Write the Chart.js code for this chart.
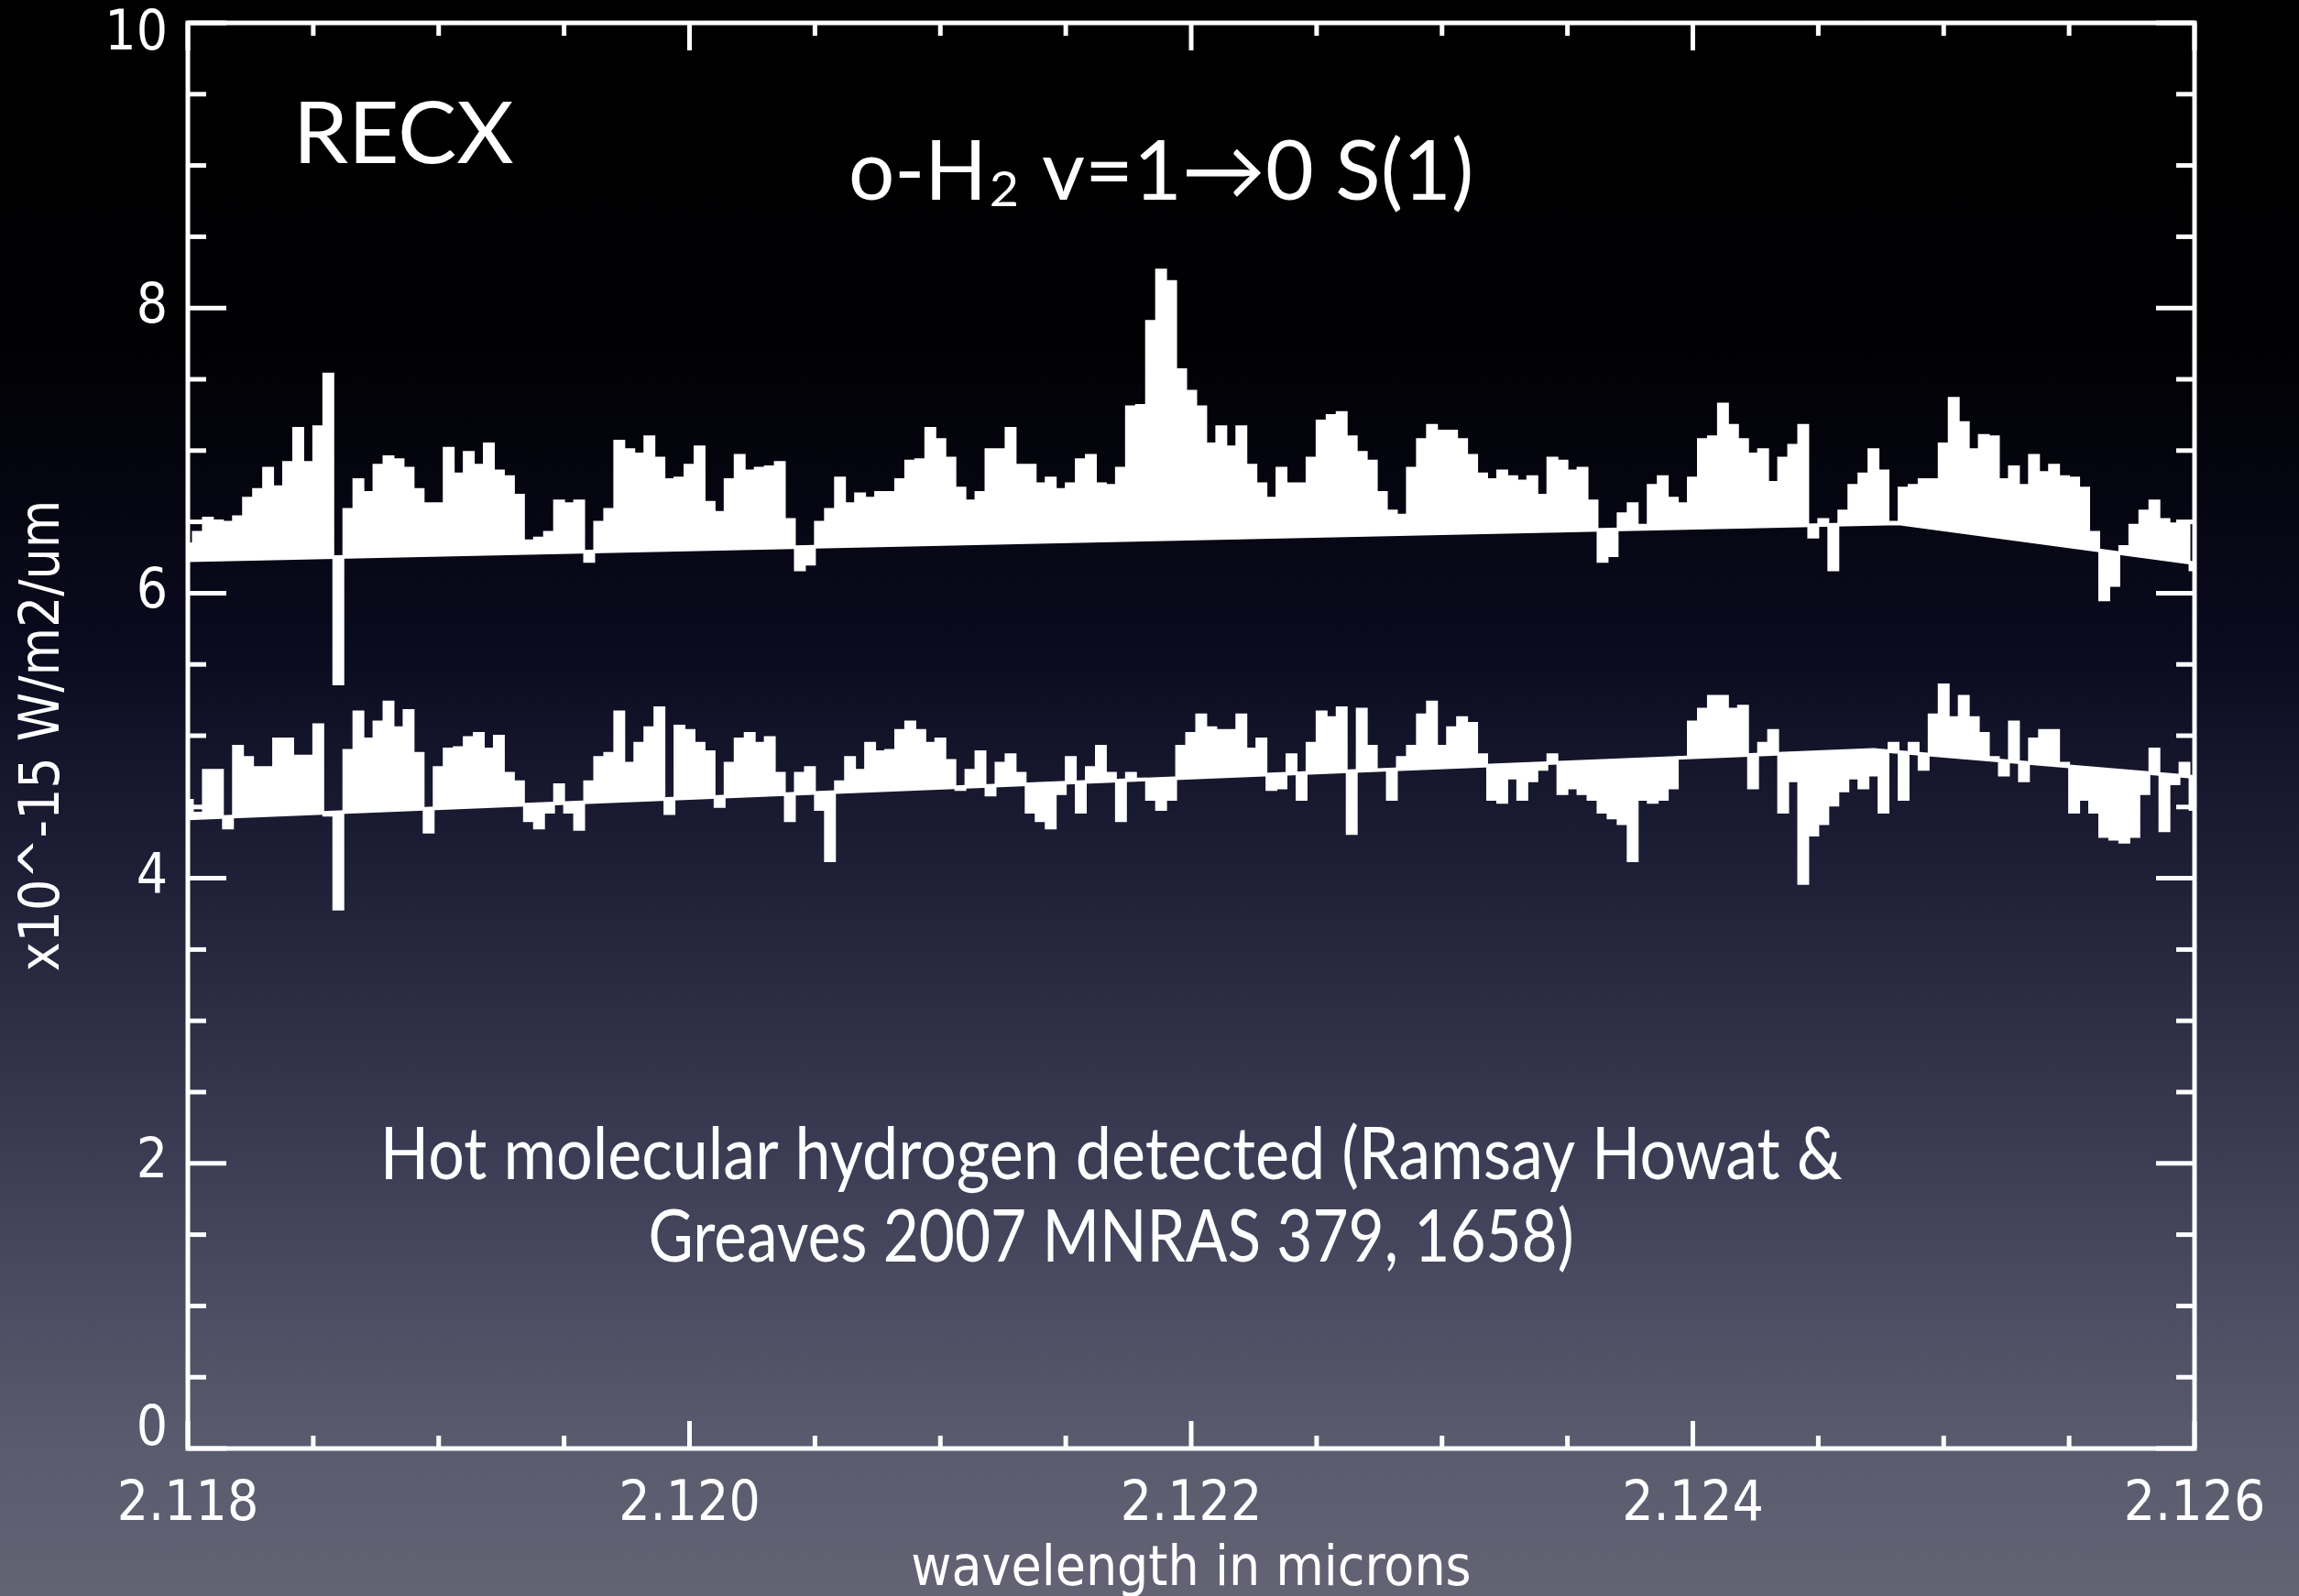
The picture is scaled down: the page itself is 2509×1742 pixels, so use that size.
<!DOCTYPE html>
<html>
<head>
<meta charset="utf-8">
<script src="https://cdn.jsdelivr.net/npm/chart.js@4.4.0/dist/chart.umd.min.js"></script>
<style>
  html, body {
    margin: 0;
    padding: 0;
    width: 2509px;
    height: 1742px;
    overflow: hidden;
    background: linear-gradient(to bottom, #000000 0%, #010104 22%, #0a0a1e 40%, #1f1f38 55%, #3b3b54 72%, #5a5a6e 90%, #636374 100%);
  }
  canvas { display: block; }
</style>
</head>
<body>
<canvas id="espectro" width="2509" height="1742"></canvas>
<script>
// Rejilla de longitudes de onda (micras)
const waveStart = 2.118;
const waveStep = 0.00004;

// Flujo del espectro superior (x10^-15 W/m2/um)
const fluxUpper = [
  6.35, 6.43, 6.53, 6.51, 6.50, 6.54, 6.67, 6.73, 6.88, 6.75,
  6.92, 7.16, 6.92, 7.17, 7.54, 5.36, 6.59, 6.80, 6.71, 6.90,
  6.96, 6.94, 6.88, 6.73, 6.63, 6.63, 7.02, 6.84, 6.99, 6.90,
  7.05, 6.86, 6.82, 6.69, 6.37, 6.39, 6.43, 6.65, 6.63, 6.65,
  6.22, 6.50, 6.59, 7.07, 7.01, 6.98, 7.10, 6.95, 6.80, 6.81,
  6.90, 7.03, 6.64, 6.57, 6.80, 6.97, 6.86, 6.88, 6.89, 6.92,
  6.52, 6.16, 6.20, 6.50, 6.59, 6.81, 6.63, 6.70, 6.67, 6.71,
  6.71, 6.80, 6.93, 6.94, 7.16, 7.08, 6.95, 6.74, 6.65, 6.71,
  7.01, 7.01, 7.16, 6.90, 6.90, 6.77, 6.81, 6.73, 6.77, 6.94,
  6.97, 6.77, 6.76, 6.88, 7.31, 7.32, 7.91, 8.27, 8.19, 7.57,
  7.42, 7.31, 7.05, 7.17, 7.03, 7.17, 6.90, 6.77, 6.67, 6.88,
  6.77, 6.77, 6.95, 7.21, 7.25, 7.27, 7.10, 6.99, 6.93, 6.71,
  6.58, 6.55, 6.88, 7.08, 7.18, 7.14, 7.14, 7.08, 6.97, 6.84,
  6.80, 6.86, 6.82, 6.79, 6.82, 6.69, 6.95, 6.93, 6.86, 6.88,
  6.65, 6.22, 6.26, 6.56, 6.63, 6.48, 6.76, 6.82, 6.67, 6.63,
  6.81, 7.08, 7.10, 7.33, 7.18, 7.08, 6.98, 7.01, 6.78, 6.95,
  7.04, 7.18, 6.39, 6.52, 6.16, 6.58, 6.76, 6.84, 7.01, 6.86,
  6.50, 6.74, 6.76, 6.80, 6.80, 7.05, 7.37, 7.20, 7.01, 7.11,
  7.10, 6.80, 6.89, 6.76, 6.97, 6.85, 6.90, 6.82, 6.81, 6.74,
  6.43, 5.95, 6.05, 6.33, 6.48, 6.58, 6.65, 6.52, 6.49, 6.48,
  6.16
];

// Flujo del espectro inferior
const fluxLower = [
  4.55, 4.46, 4.76, 4.76, 4.35, 4.93, 4.85, 4.78, 4.78, 4.98,
  4.98, 4.86, 4.86, 5.08, 4.44, 3.78, 4.90, 5.17, 4.98, 5.10,
  5.24, 5.06, 5.18, 4.88, 4.32, 4.78, 4.91, 4.92, 4.99, 5.02,
  4.91, 5.00, 4.74, 4.68, 4.40, 4.35, 4.46, 4.66, 4.46, 4.34,
  4.68, 4.85, 4.88, 5.17, 4.81, 4.95, 5.06, 5.20, 4.45, 5.07,
  5.04, 4.95, 4.89, 4.50, 4.81, 4.98, 5.02, 4.95, 4.99, 4.74,
  4.40, 4.74, 4.78, 4.48, 4.12, 4.68, 4.85, 4.76, 4.95, 4.89,
  4.90, 5.04, 5.10, 5.04, 4.95, 4.98, 4.83, 4.62, 4.76, 4.89,
  4.58, 4.81, 4.87, 4.74, 4.46, 4.40, 4.35, 4.59, 4.85, 4.46,
  4.78, 4.93, 4.74, 4.40, 4.74, 4.70, 4.55, 4.48, 4.55, 4.93,
  5.02, 5.15, 5.06, 5.04, 5.04, 5.15, 4.91, 4.98, 4.62, 4.63,
  4.87, 4.55, 4.95, 5.17, 5.13, 5.20, 4.31, 5.19, 4.93, 4.76,
  4.55, 4.85, 4.93, 5.15, 5.24, 4.93, 5.06, 5.13, 5.09, 4.87,
  4.55, 4.53, 4.70, 4.55, 4.68, 4.76, 4.87, 4.59, 4.63, 4.59,
  4.55, 4.46, 4.42, 4.38, 4.12, 4.55, 4.53, 4.55, 4.63, 4.85,
  5.10, 5.19, 5.28, 5.28, 5.19, 5.21, 4.63, 4.95, 5.04, 4.46,
  4.68, 3.96, 4.30, 4.38, 4.51, 4.61, 4.70, 4.63, 4.72, 4.46,
  4.95, 4.55, 4.95, 4.76, 5.15, 5.36, 5.13, 5.28, 5.13, 5.02,
  4.85, 4.72, 5.10, 4.68, 4.98, 5.04, 5.04, 4.81, 4.46, 4.55,
  4.46, 4.29, 4.27, 4.25, 4.29, 4.59, 4.91, 4.33, 4.66, 4.81,
  4.48
];

// Continuos ajustados
const upperContWave = [2.118, 2.12482, 2.126];
const upperContFlux = [6.23, 6.49, 6.21];
const lowerContWave = [2.118, 2.12472, 2.126];
const lowerContFlux = [4.42, 4.90, 4.71];

// Marcas de los ejes
const xTickValues = [2.118, 2.120, 2.122, 2.124, 2.126];
const yTickValues = [0, 2, 4, 6, 8, 10];

const wavelength = fluxUpper.map((_, i) => waveStart + i * waveStep);

function puntos(xs, ys) {
  return xs.map((x, i) => ({ x: x, y: ys[i] }));
}

const fuenteEjes = { family: "'DejaVu Sans Condensed', 'DejaVu Sans'", size: 60 };

// Texto ajustado al ancho de tinta medido en la figura
function textoAjustado(ctx, texto, izq, base, cap, ancho) {
  const size = cap / 0.7165;
  ctx.font = size + 'px Lato';
  const m = ctx.measureText(texto);
  const tinta = m.actualBoundingBoxRight + m.actualBoundingBoxLeft;
  const sx = ancho / tinta;
  ctx.save();
  ctx.translate(izq, base);
  ctx.scale(sx, 1);
  ctx.textAlign = 'left';
  ctx.textBaseline = 'alphabetic';
  ctx.fillText(texto, m.actualBoundingBoxLeft, 0);
  ctx.restore();
}

const marcoEjes = {
  id: 'marcoEjes',
  afterDatasetsDraw(chart) {
    const { ctx, chartArea: a, scales: { x, y } } = chart;
    ctx.save();
    ctx.strokeStyle = '#ffffff';
    ctx.lineWidth = 5;
    ctx.lineCap = 'butt';
    ctx.strokeRect(a.left, a.top, a.right - a.left, a.bottom - a.top);

    const linea = (x1, y1, x2, y2) => {
      ctx.beginPath();
      ctx.moveTo(x1, y1);
      ctx.lineTo(x2, y2);
      ctx.stroke();
    };

    for (let k = 0; k <= 20; k++) {
      const py = y.getPixelForValue(k * 0.5);
      const len = k % 4 === 0 ? 42 : 20;
      linea(a.left, py, a.left + len, py);
      linea(a.right, py, a.right - len, py);
    }
    for (let k = 0; k <= 16; k++) {
      const px = x.getPixelForValue(2.118 + k * 0.0005);
      const len = k % 4 === 0 ? 30 : 14;
      linea(px, a.bottom, px, a.bottom - len);
      linea(px, a.top, px, a.top + len);
    }

    // etiquetas del eje y, las extremas quedan dentro del rango del marco
    ctx.fillStyle = '#ffffff';
    ctx.font = fuenteEjes.size + 'px ' + fuenteEjes.family;
    ctx.textAlign = 'right';
    ctx.textBaseline = 'middle';
    yTickValues.forEach(v => {
      let py = y.getPixelForValue(v);
      py = Math.min(Math.max(py, a.top + 13), a.bottom - 20);
      ctx.fillText(String(v), a.left - 22, py);
    });
    ctx.restore();
  },
  afterDraw(chart) {
    const ctx = chart.ctx;
    ctx.save();
    ctx.fillStyle = '#ffffff';
    textoAjustado(ctx, 'RECX', 328, 178, 66, 232);
    textoAjustado(ctx, 'o-H', 929, 218, 65, 140);
    textoAjustado(ctx, '2', 1082, 225, 37, 28);
    textoAjustado(ctx, 'v=1\u21920 S(1)', 1138, 218, 65, 467);
    textoAjustado(ctx, 'Hot molecular hydrogen detected (Ramsay Howat &', 421, 1287, 57, 1589);
    textoAjustado(ctx, 'Greaves 2007 MNRAS 379, 1658)', 710, 1377, 57, 1005);
    ctx.restore();
  }
};

new Chart(document.getElementById('espectro'), {
  type: 'line',
  data: {
    datasets: [
      {
        label: 'continuo superior',
        data: puntos(upperContWave, upperContFlux),
        borderColor: '#ffffff',
        borderWidth: 4,
        pointRadius: 0,
        fill: false
      },
      {
        label: 'espectro superior',
        data: puntos(wavelength, fluxUpper),
        borderColor: '#ffffff',
        borderWidth: 2,
        pointRadius: 0,
        stepped: 'middle',
        backgroundColor: '#ffffff',
        fill: '-1'
      },
      {
        label: 'continuo inferior',
        data: puntos(lowerContWave, lowerContFlux),
        borderColor: '#ffffff',
        borderWidth: 4,
        pointRadius: 0,
        fill: false
      },
      {
        label: 'espectro inferior',
        data: puntos(wavelength, fluxLower),
        borderColor: '#ffffff',
        borderWidth: 2,
        pointRadius: 0,
        stepped: 'middle',
        backgroundColor: '#ffffff',
        fill: '-1'
      }
    ]
  },
  options: {
    responsive: false,
    animation: false,
    devicePixelRatio: 1,
    layout: { padding: { top: 25, right: 114, left: 0, bottom: 0 } },
    plugins: {
      legend: { display: false },
      tooltip: { enabled: false }
    },
    elements: { line: { tension: 0 } },
    scales: {
      x: {
        type: 'linear',
        min: 2.118,
        max: 2.126,
        afterFit: s => { s.height = 161; s.paddingLeft = 0; s.paddingRight = 0; },
        afterBuildTicks: s => { s.ticks = xTickValues.map(v => ({ value: v })); },
        grid: { display: false, drawTicks: false },
        border: { display: false },
        ticks: {
          color: '#ffffff',
          font: fuenteEjes,
          padding: 26,
          maxRotation: 0,
          autoSkip: false,
          callback: v => v.toFixed(3)
        },
        title: {
          display: true,
          text: 'wavelength in microns',
          color: '#ffffff',
          font: fuenteEjes,
          padding: { top: 0, bottom: -8 }
        }
      },
      y: {
        type: 'linear',
        min: 0,
        max: 10,
        afterFit: s => { s.width = 205; s.paddingTop = 0; s.paddingBottom = 0; },
        afterBuildTicks: s => { s.ticks = yTickValues.map(v => ({ value: v })); },
        grid: { display: false, drawTicks: false },
        border: { display: false },
        ticks: { display: false },
        title: {
          display: true,
          text: 'x10^-15 W/m2/um',
          color: '#ffffff',
          font: fuenteEjes,
          padding: { top: 12, bottom: 0 }
        }
      }
    }
  },
  plugins: [marcoEjes]
});
</script>
</body>
</html>
